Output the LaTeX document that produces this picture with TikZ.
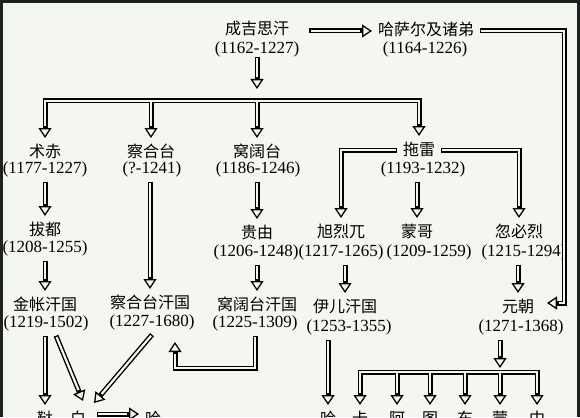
\documentclass[tikz,border=0pt]{standalone}
\usepackage{fontspec}
\setmainfont{Liberation Serif}
\newfontfamily\cjk{Noto Sans CJK SC}
\usetikzlibrary{arrows.meta}

\definecolor{paper}{HTML}{F3F6F1}
\definecolor{edge}{HTML}{1E221E}

\begin{document}
\begin{tikzpicture}[x=1pt, y=-1pt,
nm/.style={font=\cjk\fontsize{16}{16}\selectfont, inner sep=0pt, outer sep=6pt, text height=13pt, text depth=3pt},
yr/.style={font=\fontsize{17}{17}\selectfont, inner sep=0pt, outer sep=5pt},
>={Triangle[open, length=10pt, width=13pt, line width=1.3pt]},
rim/.style={draw=black, line width=5pt, arr/.style={->}, arr2/.style={<->}, capend/.style={}},
core/.style={draw=paper, line width=2.2pt, arr/.style={shorten >=11.8pt}, arr2/.style={shorten >=11.8pt, shorten <=11.8pt}, capend/.style={shorten <=1.4pt}}
]
\useasboundingbox (0,0) rectangle (580,417);
\clip (0,0) rectangle (580,417);
\fill[paper] (0,0) rectangle (580,417);
\fill[edge] (0,0) rectangle (3,417);
\fill[edge] (0,0) rectangle (580,3);
\fill[edge] (577,0) rectangle (580,417);

\node[nm] (cg) at (257,30) {成吉思汗};
\node[yr] (cgy) at (257,49) {(1162-1227)};
\node[nm] (hs) at (426,31) {哈萨尔及诸弟};
\node[yr] (hsy) at (425,49) {(1164-1226)};

\node[nm] (zc) at (45,152) {术赤};
\node[yr] (zcy) at (45,169) {(1177-1227)};
\node[nm] (cht) at (151,152) {察合台};
\node[yr] (chty) at (152,169) {(?-1241)};
\node[nm] (og) at (257,152) {窝阔台};
\node[yr] (ogy) at (258,169) {(1186-1246)};
\node[nm] (tl) at (419,150) {拖雷};
\node[yr] (tly) at (423,169) {(1193-1232)};

\node[nm] (bd) at (45,230) {拔都};
\node[yr] (bdy) at (45,248) {(1208-1255)};
\node[nm] (gy) at (257,233) {贵由};
\node[yr] (gyy) at (256,252) {(1206-1248)};
\node[nm] (xl) at (341,232) {旭烈兀};
\node[yr] (xly) at (341,252) {(1217-1265)};
\node[nm] (mg) at (417,232) {蒙哥};
\node[yr] (mgy) at (429,252) {(1209-1259)};
\node[nm] (hb) at (519,232) {忽必烈};
\node[yr] (hby) at (524,252) {(1215-1294)};

\node[nm] (jz) at (45,305) {金帐汗国};
\node[yr] (jzy) at (46,323) {(1219-1502)};
\node[nm] (chk) at (150,303) {察合台汗国};
\node[yr] (chky) at (152,322) {(1227-1680)};
\node[nm] (ok) at (257,305) {窝阔台汗国};
\node[yr] (oky) at (255,323) {(1225-1309)};
\node[nm] (yl) at (345,307) {伊儿汗国};
\node[yr] (yly) at (349,327) {(1253-1355)};
\node[nm] (yc) at (518,307) {元朝};
\node[yr] (ycy) at (521,327) {(1271-1368)};

% bottom row, cut by the edge
\node[nm] (dd) at (45,419) {鞑};
\node[nm] (bw) at (78,419) {白};
\node[nm] (hsk) at (153,419) {哈};
\node[nm] (hy) at (328,419) {哈};
\node[nm] (ka) at (360,419) {卡};
\node[nm] (ah) at (397,419) {阿};
\node[nm] (tu) at (430,419) {图};
\node[nm] (dg) at (465,419) {东};
\node[nm] (mgl) at (500,419) {蒙};
\node[nm] (zg) at (537,419) {中};

\coordinate (tb) at (257,101);
\coordinate (bb) at (500,372);
\coordinate (rc) at (564,31);
\coordinate (lp) at (175,368);
\coordinate (lq) at (175,342);

% double-line arrows: black first, then the paper-coloured core
\foreach \pass in {rim,core}{
  \draw[\pass, arr, capend] ([xshift=5pt]cgy.east |- hs.west) -- (hs.west);
  \draw[\pass, arr, capend] (hs.east) -- (rc) |- ([xshift=7pt,yshift=4pt]yc.east);
  \draw[\pass, arr, capend] ([yshift=5pt]cgy.south) -- ([yshift=12pt]tb);
  \draw[\pass, arr2] (zc.north) |- (tb) -| (tl.north);
  \draw[\pass, arr] (tb -| cht.north) -- (cht.north);
  \draw[\pass, arr] (tb) -- (og.north);
  \draw[\pass, arr, capend] (bd.north |- zcy.south) -- (bd.north);
  \draw[\pass, arr, capend] (jz.north |- bdy.south) -- (jz.north);
  \draw[\pass, arr, capend] (chk.north |- chty.south) -- (chk.north);
  \draw[\pass, arr, capend] (gy.north |- ogy.south) -- (gy.north);
  \draw[\pass, arr, capend] (ok.north |- gyy.south) -- (ok.north);
  \draw[\pass, arr, capend] (tl.west) -| (xl.north);
  \draw[\pass, arr, capend] (tl.east) -| (hb.north);
  \draw[\pass, arr, capend] (mg.north |- tly.south) -- (mg.north);
  \draw[\pass, arr, capend] (yl.north |- xly.south) -- (yl.north);
  \draw[\pass, arr, capend] (yc.north |- hby.south) -- (yc.north);
  \draw[\pass, arr, capend] (dd.north |- jzy.south) -- (dd.north);
  \draw[\pass, arr, capend] ([xshift=10pt]jzy.south) -- ([xshift=5pt,yshift=4pt]bw.north);
  \draw[\pass, arr, capend] (chky.south) -- ([xshift=16pt,yshift=2pt]bw.north);
  \draw[\pass, arr, capend] ([xshift=5pt,yshift=5pt]bw.east) -- ([yshift=5pt]hsk.west);
  \draw[\pass, arr, capend] (oky.south) |- (lp) -- (lq);
  \draw[\pass, arr, capend] (hy.north |- yly.south) -- (hy.north);
  \draw[\pass, arr, capend] (bb |- ycy.south) -- ([yshift=4pt]bb);
  \draw[\pass, arr2] (ka.north) |- (bb) -| (zg.north);
  \foreach \k in {ah,tu,dg,mgl}
    \draw[\pass, arr] (bb -| \k.north) -- (\k.north);
}
\end{tikzpicture}
\end{document}
